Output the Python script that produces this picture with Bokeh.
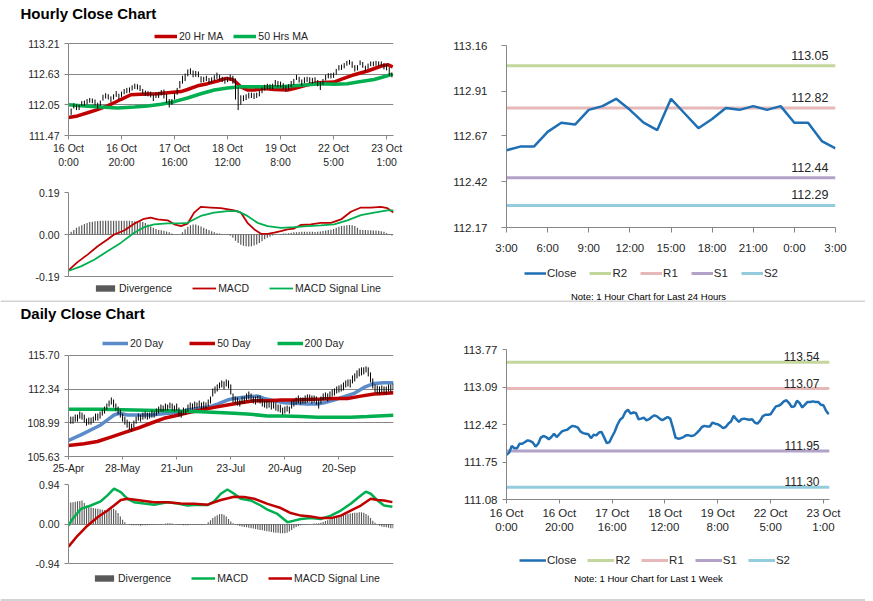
from bokeh.plotting import figure
from bokeh.layouts import column, row
from bokeh.models import Range1d, FixedTicker, NumeralTickFormatter, Legend, LegendItem, Label, Span
from bokeh.embed import file_html
from bokeh.resources import INLINE

# ---------------- tick labels ----------------
week_tick_pos = [0, 20, 40, 60, 80, 100, 120]
week_tick_labels = ["16 Oct\n0:00", "16 Oct\n20:00", "17 Oct\n16:00", "18 Oct\n12:00",
                    "19 Oct\n8:00", "22 Oct\n5:00", "23 Oct\n1:00"]
day_tick_pos = [0, 24, 48, 72, 96, 120]
day_tick_labels = ["25-Apr", "28-May", "21-Jun", "23-Jul", "20-Aug", "20-Sep"]
h24_tick_pos = [0, 3, 6, 9, 12, 15, 18, 21, 24]
h24_tick_labels = ["3:00", "6:00", "9:00", "12:00", "15:00", "18:00", "21:00", "0:00", "3:00"]

hourly_y_ticks = [111.47, 112.05, 112.63, 113.21]
hmacd_y_ticks = [-0.19, 0.0, 0.19]
h24_y_ticks = [112.17, 112.42, 112.67, 112.91, 113.16]
daily_y_ticks = [105.63, 108.99, 112.34, 115.70]
dmacd_y_ticks = [-0.94, 0.0, 0.94]
week_y_ticks = [111.08, 111.75, 112.42, 113.09, 113.77]

# ---------------- hourly (1 week) ----------------
week_close = [111.88, 111.92, 112.04, 112.00, 112.00, 112.08, 112.08, 112.11, 112.14, 112.13,
              112.10, 112.03, 112.08, 112.19, 112.22, 112.20, 112.16, 112.20, 112.26, 112.20,
              112.25, 112.30, 112.32, 112.33, 112.37, 112.40, 112.39, 112.37, 112.30, 112.27,
              112.26, 112.25, 112.18, 112.24, 112.23, 112.28, 112.29, 112.19, 112.09, 112.11,
              112.21, 112.30, 112.42, 112.51, 112.55, 112.65, 112.69, 112.62, 112.64, 112.63,
              112.52, 112.53, 112.55, 112.50, 112.52, 112.56, 112.59, 112.57, 112.53, 112.50,
              112.53, 112.56, 112.53, 112.37, 112.19, 112.17, 112.18, 112.20, 112.23, 112.23,
              112.22, 112.23, 112.27, 112.32, 112.38, 112.40, 112.39, 112.39, 112.46, 112.44,
              112.43, 112.40, 112.36, 112.38, 112.44, 112.48, 112.58, 112.52, 112.47, 112.52,
              112.53, 112.52, 112.51, 112.52, 112.46, 112.44, 112.49, 112.57, 112.60, 112.60,
              112.61, 112.68, 112.75, 112.76, 112.79, 112.84, 112.86, 112.81, 112.74, 112.75,
              112.85, 112.81, 112.73, 112.78, 112.83, 112.83, 112.84, 112.83, 112.83, 112.78,
              112.77, 112.67, 112.61]
week_high = [111.93, 111.98, 112.08, 112.06, 112.05, 112.12, 112.13, 112.16, 112.18, 112.17,
             112.15, 112.09, 112.13, 112.24, 112.27, 112.25, 112.21, 112.25, 112.31, 112.26,
             112.30, 112.35, 112.37, 112.38, 112.42, 112.45, 112.44, 112.42, 112.35, 112.32,
             112.31, 112.30, 112.24, 112.29, 112.29, 112.33, 112.34, 112.26, 112.16, 112.16,
             112.27, 112.37, 112.50, 112.60, 112.64, 112.72, 112.74, 112.70, 112.69, 112.68,
             112.59, 112.58, 112.60, 112.56, 112.57, 112.61, 112.66, 112.62, 112.58, 112.55,
             112.58, 112.62, 112.60, 112.55, 112.38, 112.23, 112.23, 112.25, 112.28, 112.28,
             112.27, 112.28, 112.32, 112.38, 112.43, 112.45, 112.44, 112.45, 112.52, 112.50,
             112.49, 112.46, 112.42, 112.44, 112.50, 112.54, 112.62, 112.58, 112.53, 112.57,
             112.58, 112.57, 112.56, 112.57, 112.52, 112.49, 112.54, 112.62, 112.65, 112.65,
             112.66, 112.73, 112.80, 112.81, 112.84, 112.88, 112.90, 112.87, 112.80, 112.80,
             112.89, 112.86, 112.79, 112.83, 112.87, 112.87, 112.88, 112.87, 112.87, 112.84,
             112.82, 112.76, 112.66]
week_low = [111.83, 111.86, 111.98, 111.95, 111.95, 112.03, 112.03, 112.06, 112.09, 112.08,
            112.04, 111.98, 112.03, 112.13, 112.17, 112.15, 112.10, 112.15, 112.20, 112.15,
            112.20, 112.25, 112.27, 112.28, 112.32, 112.35, 112.34, 112.31, 112.25, 112.22,
            112.21, 112.19, 112.12, 112.18, 112.18, 112.23, 112.17, 112.08, 112.00, 112.05,
            112.15, 112.24, 112.36, 112.45, 112.50, 112.59, 112.63, 112.57, 112.58, 112.57,
            112.47, 112.48, 112.50, 112.45, 112.47, 112.51, 112.54, 112.51, 112.48, 112.45,
            112.48, 112.51, 112.45, 112.15, 111.95, 112.05, 112.12, 112.14, 112.17, 112.18,
            112.16, 112.18, 112.21, 112.27, 112.32, 112.35, 112.34, 112.34, 112.40, 112.38,
            112.38, 112.35, 112.30, 112.33, 112.38, 112.43, 112.52, 112.47, 112.41, 112.46,
            112.48, 112.46, 112.45, 112.47, 112.40, 112.33, 112.43, 112.51, 112.55, 112.55,
            112.56, 112.62, 112.70, 112.71, 112.74, 112.79, 112.81, 112.75, 112.68, 112.70,
            112.80, 112.75, 112.68, 112.73, 112.78, 112.78, 112.79, 112.78, 112.78, 112.72,
            112.70, 112.60, 112.57]
week_idx = list(range(len(week_close)))

ma20_idx = [0, 3.4, 7.2, 10.9, 14.7, 17.2, 19.7, 23.5, 27.3, 33.6, 37.4, 42.4, 44.9, 48.7, 52.5,
            56.2, 59.4, 61.9, 63.1, 65, 67.5, 70, 73.8, 77.6, 82.6, 85.1, 90.2, 94, 100.2, 102.8,
            107.8, 112.8, 117.8, 120.4, 122.3]
ma20_val = [111.81, 111.84, 111.90, 111.96, 112.03, 112.09, 112.15, 112.24, 112.25, 112.26,
            112.28, 112.30, 112.34, 112.41, 112.45, 112.50, 112.55, 112.53, 112.48, 112.39,
            112.33, 112.33, 112.36, 112.34, 112.33, 112.36, 112.43, 112.47, 112.48, 112.53,
            112.62, 112.69, 112.78, 112.81, 112.77]
ma50_idx = [0, 5.9, 12.2, 18.5, 24.8, 29.8, 34.9, 39.9, 44.9, 49.9, 55, 60, 65, 75.1, 80.1, 85.1,
            90.2, 95.2, 100.2, 105.2, 110.3, 115.3, 120.3, 122.2]
ma50_val = [112.05, 112.03, 112.01, 111.99, 112.01, 112.03, 112.06, 112.11, 112.18, 112.26,
            112.33, 112.37, 112.39, 112.39, 112.39, 112.41, 112.43, 112.45, 112.44, 112.45,
            112.49, 112.53, 112.60, 112.63]

hmacd_idx = [0.2, 3.4, 7.2, 11, 14.7, 17.2, 21, 24.8, 28.5, 31, 33.6, 37.4, 39.9, 42.4, 44.9, 47.4,
             49.9, 53.7, 57.5, 62.5, 65, 67.5, 70.1, 72.6, 75.1, 77.6, 80.1, 82.6, 85.1, 87.6, 91.4,
             95.2, 99, 102.8, 106.5, 110.3, 114.1, 117.8, 120.3, 122.6]
hmacd_val = [-0.160, -0.125, -0.091, -0.053, -0.023, 0.000, 0.018, 0.049, 0.071, 0.076, 0.068,
             0.064, 0.046, 0.038, 0.049, 0.099, 0.125, 0.122, 0.119, 0.109, 0.099, 0.053, 0.023,
             0.003, 0.003, 0.008, 0.015, 0.023, 0.027, 0.043, 0.046, 0.053, 0.053, 0.068, 0.103,
             0.122, 0.122, 0.125, 0.119, 0.099]
hsig_idx = [0.2, 4.7, 9.7, 14.7, 19.7, 24.8, 28.5, 32.3, 37.4, 42.4, 44.9, 49.9, 54.9, 60, 63.7,
            67.5, 71.3, 75.1, 80.1, 85.1, 90.2, 95.2, 100.2, 105.2, 110.3, 115.3, 120.3, 122.6]
hsig_val = [-0.164, -0.144, -0.114, -0.076, -0.038, 0.008, 0.033, 0.046, 0.050, 0.050, 0.053,
            0.084, 0.099, 0.106, 0.106, 0.084, 0.053, 0.038, 0.030, 0.033, 0.038, 0.041, 0.046,
            0.064, 0.088, 0.099, 0.109, 0.109]
hdiv = [0.005, 0.012, 0.02, 0.03, 0.036, 0.042, 0.047, 0.052, 0.056, 0.058,
        0.06, 0.061, 0.062, 0.062, 0.062, 0.062, 0.062, 0.062, 0.062, 0.062,
        0.062, 0.062, 0.062, 0.062, 0.061, 0.06, 0.06, 0.058, 0.056, 0.052,
        0.045, 0.036, 0.03, 0.025, 0.02, 0.019, 0.017, 0.014, 0.01, 0.005,
        0.0, -0.002, 0.0, 0.01, 0.024, 0.035, 0.042, 0.045, 0.045, 0.041,
        0.036, 0.03, 0.025, 0.02, 0.015, 0.01, 0.006, 0.004, 0.002, 0.0,
        -0.002, -0.006, -0.015, -0.028, -0.038, -0.046, -0.051, -0.053, -0.054, -0.053,
        -0.05, -0.045, -0.038, -0.03, -0.022, -0.015, -0.01, -0.005, -0.002, 0.0,
        0.002, 0.004, 0.005, 0.006, 0.008, 0.01, 0.01, 0.011, 0.012, 0.012,
        0.012, 0.012, 0.012, 0.011, 0.012, 0.014, 0.016, 0.018, 0.02, 0.022,
        0.025, 0.03, 0.035, 0.038, 0.04, 0.042, 0.043, 0.042, 0.038, 0.03,
        0.022, 0.02, 0.02, 0.019, 0.019, 0.018, 0.018, 0.017, 0.015, 0.012,
        0.006, -0.002, -0.005]

# ---------------- last 24 hours ----------------
h24_close = [112.59, 112.61, 112.61, 112.69, 112.74, 112.73, 112.81, 112.83, 112.87, 112.81,
             112.74, 112.70, 112.87, 112.79, 112.71, 112.76, 112.82, 112.81, 112.83, 112.81,
             112.83, 112.74, 112.74, 112.64, 112.60]
h24_idx = list(range(len(h24_close)))
level_names = ["R2", "R1", "S1", "S2"]
level_colors = ["#c3d69b", "#e6b9b8", "#b3a2c7", "#93cddd"]
levels_24 = [113.05, 112.82, 112.44, 112.29]
levels_week = [113.54, 113.07, 111.95, 111.30]

# ---------------- daily ----------------
day_close = [109.1, 109.3, 109.2, 109.5, 109.4, 109.8, 109.7, 109.4, 109.0, 109.2,
             109.1, 109.3, 109.6, 109.5, 109.8, 110.0, 110.3, 110.6, 110.9, 111.2,
             110.9, 110.6, 110.2, 109.9, 109.5, 109.2, 108.9, 108.7, 108.4, 108.9,
             109.3, 109.6, 109.5, 109.7, 109.8, 109.6, 109.7, 109.9, 109.8, 110.1,
             110.3, 110.5, 110.4, 110.6, 110.5, 110.7, 110.5, 110.4, 110.6, 110.0,
             109.9, 110.2, 110.1, 110.5, 110.7, 110.6, 110.8, 110.7, 110.9, 110.6,
             110.8, 110.7, 111.0, 111.2, 112.0, 112.3, 112.5, 112.8, 112.9, 112.7,
             113.0, 112.9, 112.2, 111.4, 111.3, 111.1, 111.0, 111.3, 111.2, 111.6,
             111.7, 111.5, 111.3, 111.2, 111.4, 111.3, 111.0, 110.9, 110.8, 110.9,
             110.7, 110.8, 110.6, 110.5, 110.4, 110.2, 110.3, 110.4, 110.2, 110.8,
             111.0, 111.2, 111.3, 111.1, 111.2, 111.3, 111.4, 111.5, 111.3, 111.4,
             111.2, 110.8, 111.3, 111.6, 111.7, 111.5, 111.8, 112.0, 112.1, 112.3,
             112.4, 112.5, 112.6, 112.9, 113.0, 112.9, 113.3, 113.5, 113.8, 114.0,
             114.1, 114.2, 114.4, 114.0, 113.4, 112.8, 112.4, 112.3, 112.2, 112.4,
             112.3, 112.2, 112.5, 112.4, 112.6]
day_high = [109.5, 109.6, 109.6, 109.8, 109.8, 110.1, 110.0, 109.8, 109.4, 109.5,
            109.5, 109.6, 109.9, 109.9, 110.1, 110.3, 110.6, 110.9, 111.2, 111.5,
            111.3, 110.9, 110.6, 110.3, 109.9, 109.6, 109.3, 109.1, 108.9, 109.2,
            109.6, 109.9, 109.8, 110.0, 110.1, 110.0, 110.0, 110.2, 110.1, 110.4,
            110.6, 110.8, 110.7, 110.9, 110.8, 111.0, 110.9, 110.7, 110.9, 110.5,
            110.2, 110.5, 110.4, 110.8, 111.0, 110.9, 111.1, 111.0, 111.2, 111.0,
            111.1, 111.0, 111.3, 111.6, 112.4, 112.6, 112.8, 113.0, 113.2, 113.1,
            113.3, 113.2, 112.8, 111.9, 111.6, 111.5, 111.3, 111.6, 111.6, 111.9,
            112.1, 111.9, 111.6, 111.6, 111.7, 111.7, 111.4, 111.2, 111.2, 111.2,
            111.1, 111.1, 111.0, 110.8, 110.8, 110.5, 110.6, 110.7, 110.6, 111.2,
            111.3, 111.5, 111.7, 111.5, 111.5, 111.7, 111.8, 111.8, 111.7, 111.7,
            111.6, 111.3, 111.6, 111.9, 112.0, 111.9, 112.1, 112.3, 112.4, 112.6,
            112.7, 112.8, 113.0, 113.2, 113.3, 113.3, 113.7, 113.9, 114.2, 114.4,
            114.5, 114.5, 114.6, 114.5, 114.0, 113.4, 112.8, 112.7, 112.6, 112.7,
            112.6, 112.6, 112.8, 112.8, 112.9]
day_low = [108.8, 108.9, 108.9, 109.1, 109.1, 109.4, 109.3, 109.0, 108.7, 108.8,
           108.8, 109.0, 109.2, 109.2, 109.4, 109.7, 109.9, 110.3, 110.6, 110.8,
           110.5, 110.2, 109.8, 109.5, 109.1, 108.8, 108.5, 108.3, 108.1, 108.5,
           108.9, 109.2, 109.1, 109.3, 109.4, 109.3, 109.4, 109.5, 109.5, 109.7,
           109.9, 110.1, 110.1, 110.2, 110.2, 110.4, 110.2, 110.1, 110.2, 109.6,
           109.5, 109.8, 109.8, 110.1, 110.3, 110.3, 110.4, 110.4, 110.5, 110.3,
           110.4, 110.4, 110.6, 110.9, 111.6, 111.9, 112.1, 112.4, 112.5, 112.3,
           112.6, 112.4, 111.8, 111.0, 110.9, 110.7, 110.6, 110.9, 110.9, 111.2,
           111.3, 111.1, 110.9, 110.8, 111.0, 110.9, 110.6, 110.5, 110.4, 110.5,
           110.3, 110.4, 110.2, 110.1, 110.0, 109.8, 109.9, 110.1, 109.9, 110.4,
           110.6, 110.8, 110.9, 110.8, 110.9, 110.9, 111.0, 111.1, 110.9, 111.0,
           110.8, 110.4, 110.9, 111.2, 111.3, 111.1, 111.4, 111.6, 111.7, 111.9,
           112.0, 112.1, 112.2, 112.5, 112.6, 112.5, 112.9, 113.1, 113.4, 113.6,
           113.7, 113.8, 114.0, 113.6, 113.0, 112.4, 112.0, 111.9, 111.8, 112.0,
           111.9, 111.8, 112.1, 112.0, 112.2]
day_idx = list(range(len(day_close)))

d20_idx = [0, 5.5, 11.4, 14.3, 17.3, 20.2, 22.5, 26.2, 32.1, 36.5, 41, 43.9, 49.8, 52.8, 57.2,
           61.7, 66.1, 70.5, 73.5, 79.4, 83.9, 86.8, 91.2, 95.7, 100.1, 106, 110.5, 113.4, 117.8,
           122.3, 126.7, 131.1, 135.6, 140, 144.2]
d20_val = [107.22, 107.78, 108.44, 108.77, 109.27, 109.76, 109.93, 109.76, 109.76, 109.76,
           109.86, 109.93, 109.99, 110.26, 110.42, 110.52, 110.85, 111.25, 111.41, 111.58,
           111.64, 111.41, 111.18, 110.98, 110.92, 110.85, 110.85, 110.98, 111.25, 111.58,
           111.91, 112.50, 112.90, 112.96, 112.96]
d50_idx = [0, 6.9, 12.8, 18.8, 24.7, 30.6, 36.5, 42.4, 46.9, 52.8, 58.7, 64.6, 70.5, 76.4, 82.4,
           88.3, 94.2, 100.1, 106, 111.9, 117.8, 123.8, 129.7, 135.6, 140, 144.2]
d50_val = [106.72, 106.89, 107.12, 107.55, 108.01, 108.44, 108.94, 109.43, 109.66, 109.99,
           110.26, 110.52, 110.75, 110.98, 111.18, 111.18, 111.25, 111.25, 111.31, 111.34,
           111.41, 111.41, 111.64, 111.84, 111.91, 111.97]
d200_idx = [0, 14.3, 29.1, 43.9, 58.7, 73.5, 80.9, 88.3, 95.7, 103.1, 110.5, 117.8, 125.2, 132.6, 144.2]
d200_val = [110.32, 110.32, 110.26, 110.19, 110.09, 109.93, 109.83, 109.66, 109.66, 109.60,
            109.53, 109.53, 109.53, 109.60, 109.73]

dmacd_idx = [0, 1.8, 5.5, 9.9, 14.3, 17.3, 20.2, 23.2, 26.2, 29.1, 33.5, 38.0, 43.9, 48.4, 52.8,
             57.2, 61.7, 64.6, 67.6, 70.5, 73.5, 76.4, 80.9, 85.3, 88.3, 92.7, 97.2, 100.1, 103.1,
             107.5, 111.9, 116.4, 120.8, 125.2, 129.7, 131.9, 134.1, 137.1, 140.0, 143.7]
dmacd_val = [-0.04, 0.12, 0.36, 0.44, 0.54, 0.68, 0.84, 0.76, 0.60, 0.52, 0.49, 0.46, 0.52, 0.49,
             0.44, 0.46, 0.45, 0.54, 0.72, 0.82, 0.72, 0.60, 0.56, 0.44, 0.34, 0.24, 0.04, 0.08,
             0.12, 0.14, 0.12, 0.20, 0.32, 0.48, 0.68, 0.77, 0.72, 0.56, 0.44, 0.41]
dsig_idx = [0, 4.0, 8.4, 12.9, 17.3, 20.2, 23.2, 26.2, 32.1, 38.0, 43.9, 49.8, 55.7, 61.7, 67.6,
            73.5, 77.9, 82.4, 88.3, 94.2, 98.6, 103.1, 107.5, 111.9, 116.4, 120.8, 125.2, 129.7,
            134.1, 137.1, 140.0, 143.7]
dsig_val = [-0.54, -0.28, -0.04, 0.16, 0.32, 0.44, 0.57, 0.60, 0.56, 0.52, 0.52, 0.49, 0.48, 0.46,
            0.57, 0.65, 0.64, 0.60, 0.48, 0.38, 0.26, 0.20, 0.18, 0.14, 0.14, 0.20, 0.32, 0.44,
            0.60, 0.57, 0.56, 0.52]
ddiv = [0.50, 0.51, 0.52, 0.53, 0.54, 0.55, 0.56, 0.50, 0.44, 0.41,
        0.39, 0.38, 0.37, 0.36, 0.35, 0.34, 0.33, 0.33, 0.34, 0.35,
        0.36, 0.33, 0.26, 0.18, 0.10, 0.04, 0.00, -0.02, -0.03, -0.03,
        -0.03, -0.03, -0.04, -0.03, -0.03, -0.03, -0.02, -0.02, -0.02, -0.01,
        -0.01, -0.01, 0.00, 0.01, 0.02, 0.02, 0.01, 0.00, -0.01, -0.02,
        -0.02, -0.03, -0.03, -0.03, -0.02, -0.02, -0.02, -0.02, -0.02, -0.02,
        -0.01, 0.00, 0.04, 0.09, 0.14, 0.18, 0.21, 0.23, 0.24, 0.22,
        0.18, 0.12, 0.06, 0.02, -0.01, -0.03, -0.05, -0.06, -0.07, -0.08,
        -0.09, -0.10, -0.11, -0.12, -0.13, -0.14, -0.15, -0.16, -0.17, -0.18,
        -0.19, -0.20, -0.21, -0.21, -0.22, -0.22, -0.22, -0.21, -0.18, -0.14,
        -0.10, -0.07, -0.05, -0.03, -0.02, -0.01, -0.01, 0.00, 0.00, 0.01,
        0.01, 0.02, 0.03, 0.05, 0.07, 0.09, 0.11, 0.13, 0.15, 0.17,
        0.19, 0.20, 0.22, 0.23, 0.24, 0.25, 0.26, 0.27, 0.27, 0.28,
        0.28, 0.27, 0.24, 0.20, 0.14, 0.08, 0.03, -0.01, -0.04, -0.06,
        -0.07, -0.08, -0.09, -0.10, -0.10]

# ---------------- styling helpers ----------------
FL = "Liberation Sans"
GRAY = "#868686"
SEP = "#a6a6a6"
TXT = "#262626"
RED = "#c00000"
GREEN = "#00b050"
BLUE = "#1f6fb4"
LBLUE = "#5b8bc9"


def ext_range(lo, hi, px_lo, px_hi, frame_top, frame_bottom):
    """y range so that tick `lo` sits at pixel px_lo and `hi` at px_hi inside a taller frame."""
    per = (hi - lo) / (px_lo - px_hi)
    return (lo - (frame_bottom - px_lo) * per, hi + (px_hi - frame_top) * per)


def base_fig(w, h, bl, br, bt, bb, xr, yr, xaxis=True):
    p = figure(width=w, height=h, x_range=Range1d(*xr), y_range=Range1d(*yr),
               output_backend="svg", toolbar_location=None, tools="", title=None,
               min_border_left=bl, min_border_right=br, min_border_top=bt, min_border_bottom=bb,
               x_axis_location="below" if xaxis else None)
    p.outline_line_color = None
    p.background_fill_color = "white"
    p.border_fill_color = "white"
    p.xgrid.visible = False
    return p


def strip(w, h, bl=0, br=0):
    s = figure(width=w, height=h, output_backend="svg", toolbar_location=None, tools="", title=None,
               x_axis_location=None, y_axis_location=None,
               min_border_left=bl, min_border_right=br, min_border_top=0, min_border_bottom=0,
               x_range=Range1d(0, 1), y_range=Range1d(0, h))
    s.outline_line_color = None
    s.background_fill_color = "white"
    s.border_fill_color = "white"
    s.xgrid.visible = False
    s.ygrid.visible = False
    return s


def style_y(p, ticks, size, tick_out, standoff, grid):
    ax = p.yaxis[0]
    ax.ticker = FixedTicker(ticks=ticks)
    ax.formatter = NumeralTickFormatter(format="0.00")
    ax.bounds = (ticks[0], ticks[-1])
    ax.axis_line_color = GRAY
    ax.major_tick_line_color = GRAY
    ax.major_tick_out = tick_out
    ax.major_tick_in = 0
    ax.minor_tick_line_color = None
    ax.major_label_text_font = FL
    ax.major_label_text_font_size = size
    ax.major_label_text_color = TXT
    ax.major_label_standoff = standoff
    g = p.ygrid[0]
    if grid:
        g.ticker = FixedTicker(ticks=ticks)
        g.grid_line_color = GRAY
        g.grid_line_width = 1
    else:
        g.grid_line_color = None


def style_x(p, pos, labels, size, tick_out, standoff):
    ax = p.xaxis[0]
    ax.ticker = FixedTicker(ticks=pos)
    ax.major_label_overrides = dict(zip(pos, labels))
    ax.axis_line_color = GRAY
    ax.major_tick_line_color = GRAY
    ax.major_tick_out = tick_out
    ax.major_tick_in = 0
    ax.minor_tick_line_color = None
    ax.major_label_text_font = FL
    ax.major_label_text_font_size = size
    ax.major_label_text_color = TXT
    ax.major_label_standoff = standoff


def add_legend(p, items, x, y, size, gw, gh, spacing, standoff=2):
    lg = Legend(items=items, location=(x, y), orientation="horizontal",
                border_line_color=None, background_fill_alpha=0.0,
                label_text_font=FL, label_text_font_size=size, label_text_color=TXT,
                glyph_width=gw, glyph_height=gh, label_height=gh, label_width=0,
                label_standoff=standoff, spacing=spacing, padding=0, margin=0)
    p.add_layout(lg)


def add_text(p, text, x, y, size, align="left", bold=False):
    p.add_layout(Label(x=x, y=y, x_units="screen", y_units="screen", text=text,
                       text_font=FL, text_font_size=size, text_align=align,
                       text_baseline="middle", text_color="black",
                       text_font_style="bold" if bold else "normal"))


FULL_W = 865

# ---------------- title strip (hourly), rows 0..24 ----------------
T1 = strip(FULL_W, 24)
add_text(T1, "Hourly Close Chart", 20, 11, "15px", bold=True)

# ---------------- A1: hourly close chart (rows 24..175) ----------------
pA1 = base_fig(428, 151, 68, 35, 5, 40, (0, 122.6),
               ext_range(hourly_y_ticks[0], hourly_y_ticks[-1], 135, 43, 29, 135))
style_y(pA1, hourly_y_ticks, "10.5px", 4, 5, True)
style_x(pA1, week_tick_pos, week_tick_labels, "10.5px", 4, 2)
rA20 = pA1.line(ma20_idx, ma20_val, line_color=RED, line_width=3.5)
rA50 = pA1.line(ma50_idx, ma50_val, line_color=GREEN, line_width=3.5)
pA1.segment(x0=week_idx, y0=week_low, x1=week_idx, y1=week_high, line_color="black", line_width=1)
add_legend(pA1, [LegendItem(label="20 Hr MA", renderers=[rA20]),
                 LegendItem(label="50 Hrs MA", renderers=[rA50])],
           86, 93, "10.5px", 23, 10, 10)

# ---------------- A2: hourly MACD (rows 175..300) ----------------
pA2 = base_fig(428, 125, 68, 35, 17, 0, (0, 122.6),
               ext_range(hmacd_y_ticks[0], hmacd_y_ticks[-1], 276, 192, 192, 300), xaxis=False)
style_y(pA2, hmacd_y_ticks, "10.5px", 4, 5, True)
rAd = pA2.vbar(x=week_idx, top=hdiv, bottom=0, width=0.45, fill_color="#595959", line_color=None)
rAm = pA2.line(hmacd_idx, hmacd_val, line_color=RED, line_width=1.8)
rAs = pA2.line(hsig_idx, hsig_val, line_color=GREEN, line_width=1.8)
add_legend(pA2, [LegendItem(label="Divergence", renderers=[rAd]),
                 LegendItem(label="MACD", renderers=[rAm]),
                 LegendItem(label="MACD Signal Line", renderers=[rAs])],
           25, 6, "10.5px", 24, 8, 20)

# ---------------- B: last 24 hours (rows 24..257) ----------------
pB = base_fig(437, 233, 78, 30, 21, 30, (0, 24), (h24_y_ticks[0], h24_y_ticks[-1]))
style_y(pB, h24_y_ticks, "11.5px", 5, 14, False)
style_x(pB, h24_tick_pos, h24_tick_labels, "11.5px", 5, 9)
rB = []
for lv, col in zip(levels_24, level_colors):
    rB.append(pB.line([h24_idx[0], h24_idx[-1]], [lv, lv], line_color=col, line_width=3))
    pB.add_layout(Label(x=h24_idx[-1], y=lv, text=f"{lv:.2f}", x_offset=-7, y_offset=6,
                        text_align="right", text_baseline="bottom", text_font=FL,
                        text_font_size="12.5px", text_color=TXT))
rBc = pB.line(h24_idx, h24_close, line_color=BLUE, line_width=2.5)

# legend + note strip under B (rows 257..300); one-point lines only carry the legend styles
SB = strip(437, 43, 78, 30)
sBc = SB.line([h24_idx[0]], [h24_close[0]], line_color=BLUE, line_width=2.5)
sBl = [SB.line([h24_idx[0]], [lv], line_color=c, line_width=3) for lv, c in zip(levels_24, level_colors)]
add_legend(SB, [LegendItem(label="Close", renderers=[sBc])] +
           [LegendItem(label=n, renderers=[r]) for n, r in zip(level_names, sBl)],
           18, 21, "11.5px", 22, 10, 13, standoff=1)
add_text(SB, "Note: 1 Hour Chart for Last 24 Hours", 142, 4.5, "9.5px", align="center")

# ---------------- title strip (daily) with separator on top, rows 300..326 ----------------
T2 = strip(FULL_W, 26)
T2.add_layout(Span(location=25.5, dimension="width", line_color=SEP, line_width=1))
add_text(T2, "Daily Close Chart", 20, 12.7, "15px", bold=True)

# ---------------- C1: daily close chart (rows 326..476) ----------------
pC1 = base_fig(428, 150, 68, 35, 5, 19, (0, 144.2),
               ext_range(daily_y_ticks[0], daily_y_ticks[-1], 457, 355, 331, 457))
style_y(pC1, daily_y_ticks, "10.5px", 4, 5, True)
style_x(pC1, day_tick_pos, day_tick_labels, "10.5px", 3, 2)
rC20 = pC1.line(d20_idx, d20_val, line_color=LBLUE, line_width=3.5)
rC50 = pC1.line(d50_idx, d50_val, line_color=RED, line_width=3.5)
rC200 = pC1.line(d200_idx, d200_val, line_color=GREEN, line_width=3.5)
pC1.segment(x0=day_idx, y0=day_low, x1=day_idx, y1=day_high, line_color="black", line_width=1)
add_legend(pC1, [LegendItem(label="20 Day", renderers=[rC20]),
                 LegendItem(label="50 Day", renderers=[rC50]),
                 LegendItem(label="200 Day", renderers=[rC200])],
           34, 107, "10.5px", 26, 10, 26)

# ---------------- C2: daily MACD (rows 476..592) ----------------
pC2 = base_fig(428, 116, 68, 35, 8, 0, (0, 144.2),
               ext_range(dmacd_y_ticks[0], dmacd_y_ticks[-1], 563, 484, 484, 592), xaxis=False)
style_y(pC2, dmacd_y_ticks, "10.5px", 4, 5, True)
rCd = pC2.vbar(x=day_idx, top=ddiv, bottom=0, width=0.5, fill_color="#595959", line_color=None)
rCm = pC2.line(dmacd_idx, dmacd_val, line_color=GREEN, line_width=2.5)
rCs = pC2.line(dsig_idx, dsig_val, line_color=RED, line_width=2.5)
add_legend(pC2, [LegendItem(label="Divergence", renderers=[rCd]),
                 LegendItem(label="MACD", renderers=[rCm]),
                 LegendItem(label="MACD Signal Line", renderers=[rCs])],
           24, 8, "10.5px", 24, 8, 20)

# ---------------- D: 1 week hourly (rows 326..538) ----------------
pD = base_fig(437, 212, 78, 36, 23, 39, (0, 122.3), (week_y_ticks[0], week_y_ticks[-1]))
style_y(pD, week_y_ticks, "11.5px", 4, 5, False)
style_x(pD, week_tick_pos, week_tick_labels, "11.5px", 4, 3)
rD = []
for lv, col in zip(levels_week, level_colors):
    rD.append(pD.line([week_idx[0], 122.3], [lv, lv], line_color=col, line_width=3))
    pD.add_layout(Label(x=122.3, y=lv, text=f"{lv:.2f}", x_offset=-10, y_offset=1,
                        text_align="right", text_baseline="bottom", text_font=FL,
                        text_font_size="12px", text_color=TXT))
rDc = pD.line(week_idx, week_close, line_color=BLUE, line_width=2.5)

# legend + note strip under D (rows 538..592)
SD = strip(437, 54, 78, 36)
sDc = SD.line([week_idx[0]], [week_close[0]], line_color=BLUE, line_width=2.5)
sDl = [SD.line([week_idx[0]], [lv], line_color=c, line_width=3) for lv, c in zip(levels_week, level_colors)]
add_legend(SD, [LegendItem(label="Close", renderers=[sDc])] +
           [LegendItem(label=n, renderers=[r]) for n, r in zip(level_names, sDl)],
           13, 26, "11.5px", 27, 10, 11, standoff=1)
add_text(SD, "Note: 1 Hour Chart for Last 1 Week", 142, 13.7, "9.5px", align="center")

# ---------------- bottom separator strip (rows 592..601) ----------------
BOT = strip(FULL_W, 9)
BOT.add_layout(Span(location=4.5, dimension="width", line_color=SEP, line_width=1))

layout = column(T1,
                row(column(pA1, pA2), column(pB, SB)),
                T2,
                row(column(pC1, pC2), column(pD, SD)),
                BOT)

open("out.html", "w").write(file_html(layout, INLINE, title="Hourly and Daily Close Charts"))
